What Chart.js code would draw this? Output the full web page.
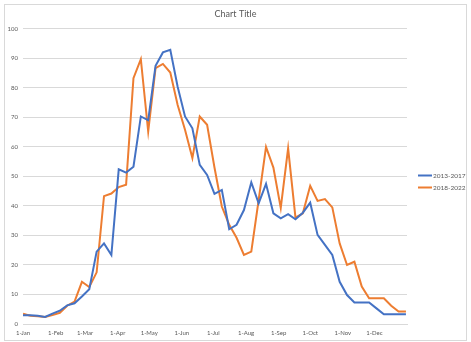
<!DOCTYPE html>
<html>
<head>
    <title>Chart Title</title>
    <script src="https://cdn.jsdelivr.net/npm/chart.js"></script>
    <style>
        body { margin: 0; background: #fff; }
        #box { position: absolute; left: 4px; top: 4px; width: 461px; height: 335px; border: 1px solid #d9d9d9; background: #fff; }
        canvas { display: block; }
    </style>
</head>
<body>
    <div id="box"><canvas id="chart" width="461" height="335"></canvas></div>

    <script>
        // Semanas do ano (dia do ano em que cada semana começa)
        var semanas = [0, 7, 14, 21, 28, 35, 42, 49, 56, 63, 70, 77, 84, 91, 98, 105, 112, 119, 126, 133,
            140, 147, 154, 161, 168, 175, 182, 189, 196, 203, 210, 217, 224, 231, 238, 245, 252, 259, 266,
            273, 280, 287, 294, 301, 308, 315, 322, 329, 336, 343, 350, 357, 364];

        // Início de cada mês e rótulos do eixo X
        var diasMes = [0, 31, 59, 90, 120, 151, 181, 212, 243, 273, 304, 334];
        var rotulosMes = ['1-Jan', '1-Feb', '1-Mar', '1-Apr', '1-May', '1-Jun', '1-Jul', '1-Aug', '1-Sep', '1-Oct', '1-Nov', '1-Dec'];

        var series = ['2013-2017', '2018-2022'];

        var valores2013 = [3.0, 3.0, 2.8, 2.4, 3.5, 4.5, 6.3, 7.0, 9.3, 11.8, 24.5, 27.3, 23.4, 52.4, 51.3, 53.3,
            70.3, 69.0, 87.5, 92.0, 92.9, 80.4, 70.3, 66.3, 53.9, 50.5, 44.1, 45.4, 32.1, 33.6, 38.6, 48.0,
            40.9, 47.5, 37.5, 35.8, 37.2, 35.5, 37.7, 41.1, 30.2, 26.8, 23.4, 14.3, 9.8, 7.3, 7.3, 7.3, 5.3,
            3.3, 3.3, 3.3, 3.3];

        var valores2018 = [3.5, 2.8, 2.6, 2.4, 3.0, 3.8, 6.2, 7.6, 14.3, 12.5, 17.5, 43.3, 44.2, 46.4, 47.2, 83.3,
            89.7, 65.2, 86.7, 88.1, 85.2, 74.2, 65.8, 56.2, 70.3, 67.5, 53.0, 39.8, 33.6, 29.2, 23.4, 24.5,
            42.0, 60.0, 53.0, 39.3, 59.5, 36.0, 37.5, 46.8, 41.7, 42.3, 39.5, 27.3, 20.0, 21.1, 12.7, 8.7, 8.7,
            8.7, 6.2, 4.2, 4.2];

        var corTexto = '#595959';
        var fonte = 'Lato';

        function pontos(valores) {
            return semanas.map(function(dia, i) {
                return { x: dia, y: valores[i] };
            });
        }

        // Legenda à direita: linha curta + nome da série
        var legendaLateral = {
            id: 'legendaLateral',
            afterDraw: function(chart) {
                var c = chart.ctx;
                chart.data.datasets.forEach(function(ds, i) {
                    var y = 170.5 + i * 12;
                    c.save();
                    c.strokeStyle = ds.borderColor;
                    c.lineWidth = 2;
                    c.beginPath();
                    c.moveTo(413, y);
                    c.lineTo(427, y);
                    c.stroke();
                    c.fillStyle = corTexto;
                    c.font = '6.5px ' + fonte;
                    c.textBaseline = 'middle';
                    c.fillText(ds.label, 428, y);
                    c.restore();
                });
            }
        };

        var ctx = document.getElementById('chart').getContext('2d');
        var chart = new Chart(ctx, {
            type: 'line',
            data: {
                datasets: [{
                    label: series[0],
                    data: pontos(valores2013),
                    borderColor: '#4472C4',
                    borderWidth: 2,
                    pointRadius: 0,
                    tension: 0
                }, {
                    label: series[1],
                    data: pontos(valores2018),
                    borderColor: '#ED7D31',
                    borderWidth: 2,
                    pointRadius: 0,
                    tension: 0
                }]
            },
            options: {
                responsive: false,
                animation: false,
                layout: { padding: 0 },
                plugins: {
                    legend: { display: false },
                    tooltip: { enabled: false },
                    title: {
                        display: true,
                        text: 'Chart Title',
                        color: corTexto,
                        font: { family: fonte, size: 9, weight: 'normal' },
                        padding: { top: 4, bottom: 9 }
                    }
                },
                scales: {
                    x: {
                        type: 'linear',
                        min: 0,
                        max: 365,
                        grid: { display: false, drawTicks: false },
                        border: { color: '#d9d9d9' },
                        afterBuildTicks: function(scale) {
                            scale.ticks = diasMes.map(function(d) { return { value: d }; });
                        },
                        afterFit: function(scale) { scale.height = 16; },
                        ticks: {
                            padding: 5,
                            autoSkip: false,
                            maxRotation: 0,
                            color: corTexto,
                            font: { family: fonte, size: 6 },
                            callback: function(value) {
                                return rotulosMes[diasMes.indexOf(value)];
                            }
                        }
                    },
                    y: {
                        min: 0,
                        max: 100,
                        grid: { color: '#d9d9d9', drawTicks: false },
                        border: { display: false },
                        afterFit: function(scale) { scale.width = 18; },
                        ticks: {
                            stepSize: 10,
                            padding: 5,
                            color: corTexto,
                            font: { family: fonte, size: 6 }
                        }
                    },
                    // eixo vazio à direita, só para abrir espaço para a legenda
                    espacoLegenda: {
                        type: 'linear',
                        position: 'right',
                        grid: { display: false, drawTicks: false },
                        border: { display: false },
                        ticks: { display: false },
                        afterFit: function(scale) { scale.width = 59; }
                    }
                }
            },
            plugins: [legendaLateral]
        });
    </script>
</body>
</html>
